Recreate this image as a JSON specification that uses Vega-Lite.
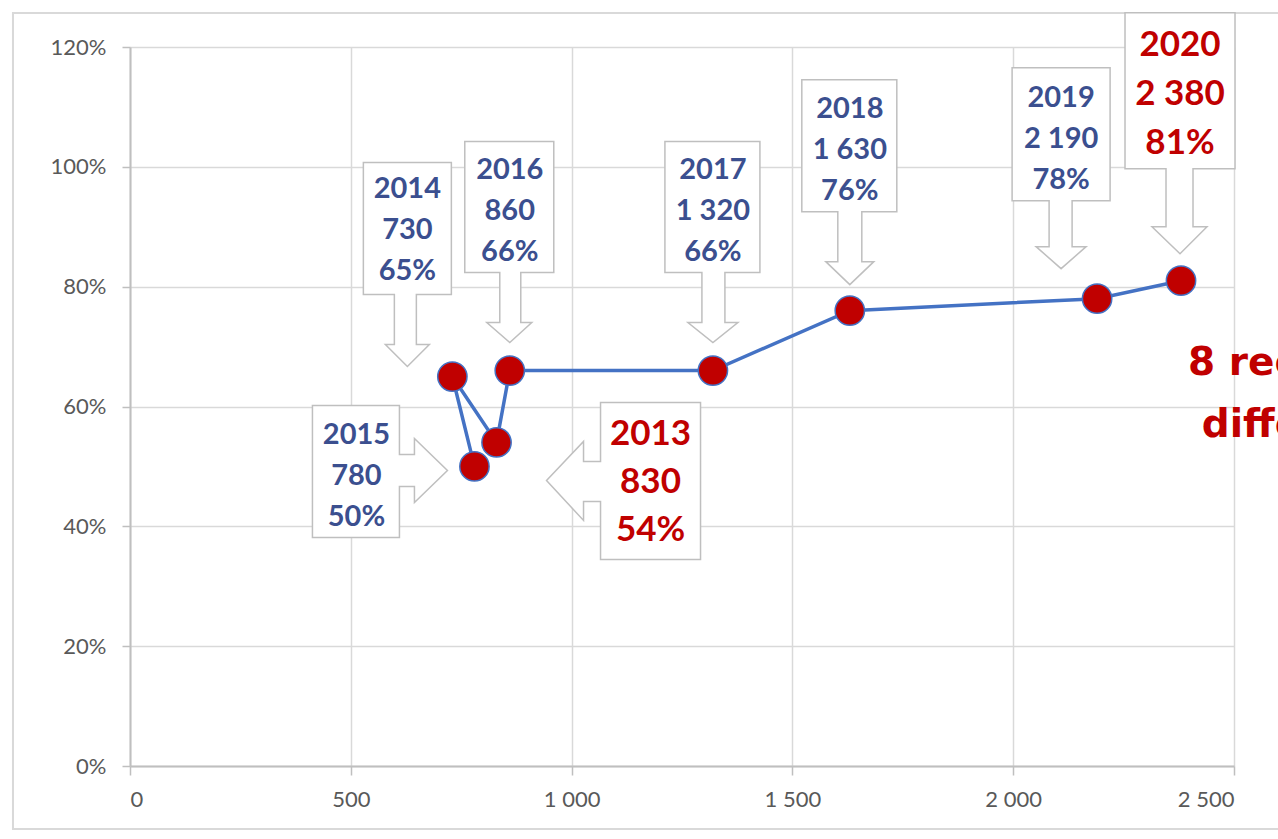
{
  "$schema": "https://vega.github.io/schema/vega-lite/v6.json",
  "width": 1104,
  "height": 719,
  "autosize": {"type": "none"},
  "padding": {"left": 130, "top": 47, "right": 44, "bottom": 73},
  "background": "white",
  "config": {
    "view": {"stroke": null},
    "font": "Lato",
    "axis": {
      "labelFont": "Lato",
      "labelFontSize": 22,
      "labelColor": "#595959",
      "gridColor": "#d9d9d9",
      "gridWidth": 1.5,
      "domainColor": "#bfbfbf",
      "domainWidth": 2,
      "tickColor": "#bfbfbf",
      "tickWidth": 1.5,
      "title": null
    }
  },
  "data": {
    "values": [
      {"year": 2013, "value": 830, "share": 0.54, "seq": 3},
      {"year": 2014, "value": 730, "share": 0.65, "seq": 2},
      {"year": 2015, "value": 780, "share": 0.50, "seq": 1},
      {"year": 2016, "value": 860, "share": 0.66, "seq": 4},
      {"year": 2017, "value": 1320, "share": 0.66, "seq": 5},
      {"year": 2018, "value": 1630, "share": 0.76, "seq": 6},
      {"year": 2019, "value": 2190, "share": 0.78, "seq": 7},
      {"year": 2020, "value": 2380, "share": 0.81, "seq": 8}
    ]
  },
  "transform": [
    {"calculate": "datum.year + '\\n' + replace(format(datum.value, ','), ',', ' ') + '\\n' + format(datum.share, '.0%')", "as": "label"}
  ],
  "encoding": {
    "x": {
      "field": "value", "type": "quantitative",
      "scale": {"domain": [0, 2500], "nice": false},
      "axis": {"values": [0, 500, 1000, 1500, 2000, 2500], "labelExpr": "replace(format(datum.value, ','), ',', ' ')", "tickSize": 9, "labelPadding": 14}
    },
    "y": {
      "field": "share", "type": "quantitative",
      "scale": {"domain": [0, 1.2], "nice": false},
      "axis": {"values": [0, 0.2, 0.4, 0.6, 0.8, 1.0, 1.2], "format": ".0%", "tickSize": 8, "labelPadding": 16}
    }
  },
  "layer": [
    {
      "transform": [{"filter": "datum.seq == 1"}],
      "mark": {"type": "rect", "fill": "transparent", "stroke": "#d9d9d9", "strokeWidth": 2},
      "encoding": {
        "x": {"datum": -265, "type": "quantitative"},
        "x2": {"datum": 2900},
        "y": {"datum": -0.105, "type": "quantitative"},
        "y2": {"datum": 1.2567}
      }
    },
    {
      "mark": {"type": "line", "color": "#4472C4", "strokeWidth": 3.5},
      "encoding": {"order": {"field": "seq"}}
    },
    {
      "mark": {"type": "point", "filled": true, "fill": "#C00000", "fillOpacity": 1, "stroke": "#4472C4", "strokeWidth": 1.5, "size": 860, "opacity": 1}
    },
    {
      "mark": {"type": "point", "filled": false, "fill": "white", "fillOpacity": 1, "stroke": "#bfbfbf", "strokeWidth": 1.5, "size": 4, "opacity": 1},
      "encoding": {
        "shape": {
          "field": "year", "type": "nominal", "legend": null,
          "scale": {
            "domain": [2013, 2014, 2015, 2016, 2017, 2018, 2019, 2020],
            "range": [
              "M104,-40 L204,-40 L204,117 L104,117 L104,59 L87,59 L87,78 L50,38 L87,-1 L87,19 L104,19 Z",
              "M-89,-214 L-1,-214 L-1,-82 L-36,-82 L-36,-32 L-23,-32 L-45,-10 L-67,-32 L-58,-32 L-58,-82 L-89,-82 Z",
              "M-162,-61 L-75,-61 L-75,-12 L-60,-12 L-60,-28 L-27,4 L-60,36 L-60,20 L-75,20 L-75,71 L-162,71 Z",
              "M-45,-229 L44,-229 L44,-98 L11,-98 L11,-48 L22,-48 L0,-28 L-23,-48 L-10,-48 L-10,-98 L-45,-98 Z",
              "M-48,-229 L47,-229 L47,-98 L12,-98 L12,-48 L25,-48 L0,-28 L-25,-48 L-11,-48 L-11,-98 L-48,-98 Z",
              "M-48,-231 L47,-231 L47,-99 L12,-99 L12,-49 L24,-49 L0,-26 L-24,-49 L-12,-49 L-12,-99 L-48,-99 Z",
              "M-85,-231 L13,-231 L13,-98 L-25,-98 L-25,-52 L-11,-52 L-36,-30 L-61,-52 L-48,-52 L-48,-98 L-85,-98 Z",
              "M-56,-268 L54,-268 L54,-112 L12,-112 L12,-54 L26,-54 L-1,-27 L-29,-54 L-15,-54 L-15,-112 L-56,-112 Z"
            ]
          }
        }
      }
    },
    {
      "transform": [{"filter": "datum.year == 2013"}],
      "mark": {"type": "text", "lineBreak": "\n", "font": "Lato", "fontWeight": "bold", "fontSize": 35, "lineHeight": 48, "color": "#C00000", "align": "center", "baseline": "middle", "dx": 154, "dy": -8},
      "encoding": {"text": {"field": "label"}}
    },
    {
      "transform": [{"filter": "datum.year == 2014"}],
      "mark": {"type": "text", "lineBreak": "\n", "font": "Lato", "fontWeight": "bold", "fontSize": 29, "lineHeight": 41, "color": "#3B4F8F", "align": "center", "baseline": "middle", "dx": -45, "dy": -188},
      "encoding": {"text": {"field": "label"}}
    },
    {
      "transform": [{"filter": "datum.year == 2015"}],
      "mark": {"type": "text", "lineBreak": "\n", "font": "Lato", "fontWeight": "bold", "fontSize": 29, "lineHeight": 41, "color": "#3B4F8F", "align": "center", "baseline": "middle", "dx": -118, "dy": -31},
      "encoding": {"text": {"field": "label"}}
    },
    {
      "transform": [{"filter": "datum.year == 2016"}],
      "mark": {"type": "text", "lineBreak": "\n", "font": "Lato", "fontWeight": "bold", "fontSize": 29, "lineHeight": 41, "color": "#3B4F8F", "align": "center", "baseline": "middle", "dx": 0, "dy": -201},
      "encoding": {"text": {"field": "label"}}
    },
    {
      "transform": [{"filter": "datum.year == 2017"}],
      "mark": {"type": "text", "lineBreak": "\n", "font": "Lato", "fontWeight": "bold", "fontSize": 29, "lineHeight": 41, "color": "#3B4F8F", "align": "center", "baseline": "middle", "dx": 0, "dy": -201},
      "encoding": {"text": {"field": "label"}}
    },
    {
      "transform": [{"filter": "datum.year == 2018"}],
      "mark": {"type": "text", "lineBreak": "\n", "font": "Lato", "fontWeight": "bold", "fontSize": 29, "lineHeight": 41, "color": "#3B4F8F", "align": "center", "baseline": "middle", "dx": 0, "dy": -202},
      "encoding": {"text": {"field": "label"}}
    },
    {
      "transform": [{"filter": "datum.year == 2019"}],
      "mark": {"type": "text", "lineBreak": "\n", "font": "Lato", "fontWeight": "bold", "fontSize": 29, "lineHeight": 41, "color": "#3B4F8F", "align": "center", "baseline": "middle", "dx": -36, "dy": -201},
      "encoding": {"text": {"field": "label"}}
    },
    {
      "transform": [{"filter": "datum.year == 2020"}],
      "mark": {"type": "text", "lineBreak": "\n", "font": "Lato", "fontWeight": "bold", "fontSize": 35, "lineHeight": 49, "color": "#C00000", "align": "center", "baseline": "middle", "dx": -1, "dy": -236},
      "encoding": {"text": {"field": "label"}}
    },
    {
      "transform": [{"filter": "datum.seq == 1"}],
      "mark": {"type": "text", "font": "DejaVu Sans", "fontWeight": "bold", "fontSize": 39, "color": "#C00000", "align": "left", "baseline": "alphabetic"},
      "encoding": {
        "x": {"datum": 2396, "type": "quantitative"},
        "y": {"datum": 0.6526, "type": "quantitative"},
        "text": {"value": "8 recorded"}
      }
    },
    {
      "transform": [{"filter": "datum.seq == 1"}],
      "mark": {"type": "text", "font": "DejaVu Sans", "fontWeight": "bold", "fontSize": 39, "color": "#C00000", "align": "left", "baseline": "alphabetic"},
      "encoding": {
        "x": {"datum": 2427, "type": "quantitative"},
        "y": {"datum": 0.549, "type": "quantitative"},
        "text": {"value": "differences"}
      }
    }
  ]
}
